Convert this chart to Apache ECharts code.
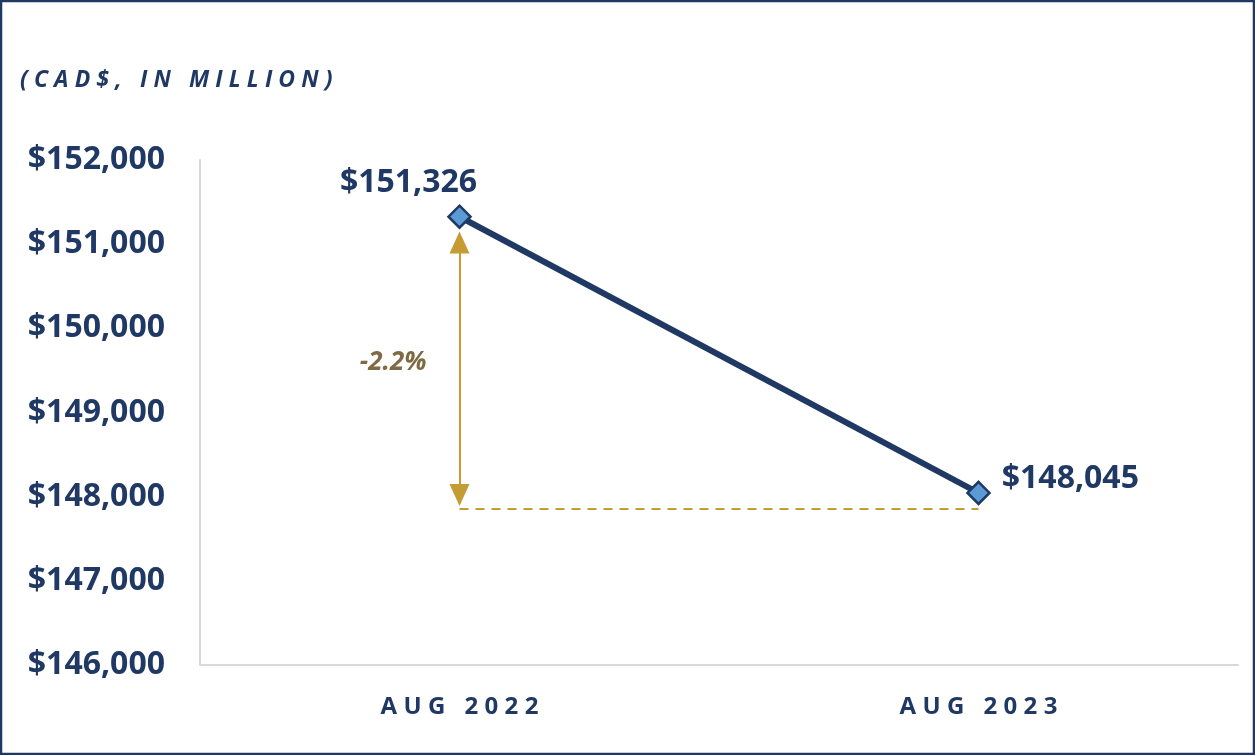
<!DOCTYPE html>
<html><head><meta charset="utf-8">
<script src="https://cdn.jsdelivr.net/npm/echarts@6/dist/echarts.min.js"></script>
<style>html,body{margin:0;padding:0;background:#fff}#c{width:1255px;height:755px}</style>
</head><body><div id="c"></div>
<script>
const categories = ['AUG 2022', 'AUG 2023'];
const values = [151326, 148045];
const yTicks = { min: 146000, max: 152000, interval: 1000 };
const changeLabel = '-2.2%';
const arrowRange = [151020, 148020];   // arrow ends (value units)
const baselineLevel = 147853;          // dashed reference line
const changeLabelLevel = 149590;
const titleText = '(CAD$, IN MILLION)';

const NAVY = '#1F3864', GOLD = '#C59B33', OLIVE = '#5E4614';
const spaced = (s, sp) => s.split('').join(sp);
const money = v => '$' + v.toLocaleString('en-US');

const chart = echarts.init(document.getElementById('c'));
chart.setOption({
  animation: false,
  graphic: [
    { type: 'rect', shape: { x: 1, y: 1, width: 1253, height: 753 }, style: { fill: null, stroke: NAVY, lineWidth: 2.5 }, z: 100 },
    { type: 'text', left: 20, top: 69, style: { text: spaced(titleText, '\u2009\u200A'), font: 'italic bold 23px "Open Sans"', fill: NAVY } }
  ],
  grid: { left: 200, right: 17, top: 160, bottom: 90 },
  xAxis: {
    type: 'category', data: categories, boundaryGap: true,
    axisLine: { lineStyle: { color: '#D9D9D9', width: 2 } },
    axisTick: { show: false },
    axisLabel: { margin: 30, color: NAVY, fontFamily: 'Open Sans', fontWeight: 'bold', fontSize: 24,
      formatter: v => spaced(v, '\u2009\u200A') }
  },
  yAxis: {
    type: 'value', min: yTicks.min, max: yTicks.max, interval: yTicks.interval,
    axisLine: { show: true, lineStyle: { color: '#D9D9D9', width: 2 } },
    axisTick: { show: false }, splitLine: { show: false },
    axisLabel: { margin: 35, color: NAVY, fontFamily: 'Open Sans', fontWeight: 'bold', fontSize: 32, formatter: money }
  },
  series: [
    {
      type: 'line', symbol: 'diamond', symbolSize: 22,
      lineStyle: { color: NAVY, width: 6 },
      itemStyle: { color: '#5B9BD5', borderColor: NAVY, borderWidth: 2.5 },
      z: 5,
      label: { show: true, color: NAVY, fontFamily: 'Open Sans', fontWeight: 'bold', fontSize: 32, formatter: p => money(p.value) },
      data: values.map((v, i) => ({
        value: v,
        label: i === 0 ? { position: 'top', offset: [-51, -1] } : { position: 'right', offset: [6, -14] }
      })),
      markLine: {
        silent: true, animation: false,
        label: { show: false },
        data: [
          [
            { coord: [0, arrowRange[0]], symbol: 'triangle', symbolSize: [20, 22], lineStyle: { color: GOLD, width: 2, type: 'solid' } },
            { coord: [0, arrowRange[1]], symbol: 'triangle', symbolSize: [20, 22] }
          ],
          [
            { coord: [0, baselineLevel], symbol: 'none', lineStyle: { color: GOLD, width: 2, type: [9, 7] } },
            { coord: [1, baselineLevel], symbol: 'none' }
          ]
        ]
      }
    },
    {
      type: 'scatter', data: [[0, changeLabelLevel]], symbolSize: 0, silent: true,
      label: { show: true, formatter: changeLabel, position: 'left', offset: [-28, 0], color: OLIVE,
        fontFamily: 'Open Sans', fontStyle: 'italic', fontWeight: 'bold', fontSize: 26 }
    }
  ]
});
</script></body></html>
